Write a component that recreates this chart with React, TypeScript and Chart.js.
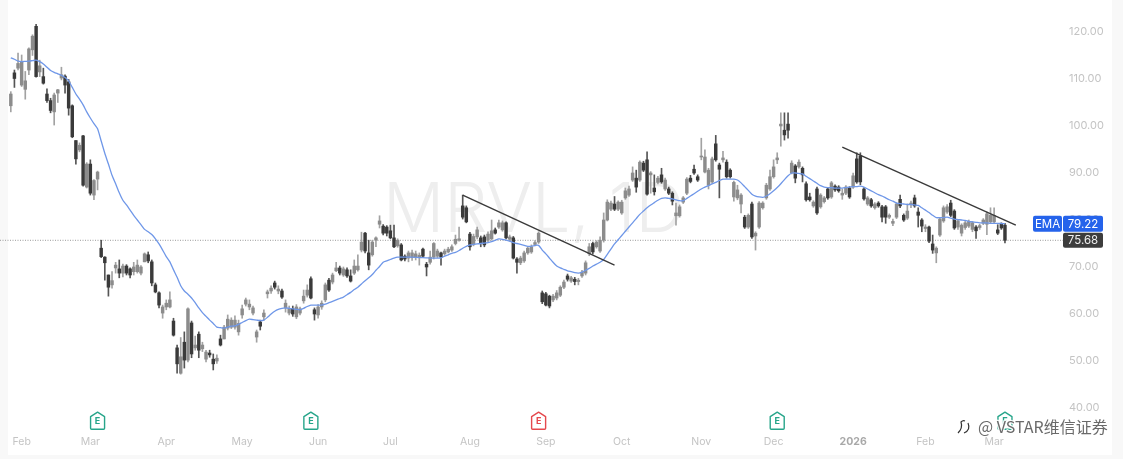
import React, { useEffect, useRef } from "react";
import { Chart, registerables } from "chart.js";

Chart.register(...registerables);

const opens = [
  104.3,111.3,112.3,108.7,107.8,111.9,116.2,121.2,111.5,110.5,
  106.8,105.4,103,107,110.2,110.6,109.4,104.3,96.9,94.9,
  97.9,87,91.9,85.3,88.7,74,72.1,68.3,66.2,69.8,
  69.6,68.7,70.2,69.6,69,69,68.7,71.1,72.6,71.1,
  66.2,64.5,60.2,61.5,61.5,58.5,52.8,47.4,54,50.2,
  58.1,52.8,55.7,52.6,50.4,51.7,50.4,50,54.7,54.7,
  57,57.2,57.2,56.2,59.8,62.1,61.5,60.2,55.1,58.3,
  59.4,64.3,64.9,66.6,64.9,64.9,61.3,60.2,61.1,59.4,
  60.2,62.8,64,67.5,60.9,59.8,61.5,63,67.2,66.8,
  69.2,69.8,68.3,69.4,68.1,68.7,69.4,73.6,77.2,73,
  72.6,75.7,79.1,78.7,78.5,77.7,76.2,74.5,74.7,72.3,
  71.9,72,72,72,73.8,70.6,71,72.1,72.3,73,
  72.8,73.2,73.6,75,75.7,83,82.6,77,74.8,76.4,
  76.2,76.4,75.7,76,77.9,78.5,77.9,79.4,75.9,76.2,
  71.7,70.9,71.3,73,73.2,74.8,75.3,64.5,64.3,63.8,
  63,63.4,64,65.7,68.1,67,67.4,66.9,68.1,68.7,
  72.8,75,74.3,73.4,75.7,80,82.3,83.4,82.3,81.5,
  84.7,85.3,88.5,88.9,88.5,92.1,92.8,89.6,86.8,88,
  89.6,86.6,86.6,85.7,80.9,80.9,83.8,85.7,88.9,90.8,
  89.2,93.4,90.2,87.4,88.1,96.2,91.7,92.8,92.3,90.6,
  84.9,84.7,83.4,80.6,78.5,83.4,76.6,78.5,82.6,84.7,
  86.6,89.2,92.8,100,99.1,100.4,90,91.5,91.3,91,
  87.7,84.9,83,86.6,82.8,83.9,86.6,84.9,87.2,87,
  85.3,85.7,86.8,87,93,93.6,86.6,83.4,84.3,82.6,
  83.6,82.8,82.8,80.6,79.3,80.6,84.4,81,80.4,83.3,
  84.7,81.7,80,78.2,78.5,74.9,73,76.8,79.8,81.7,
  83.6,81.9,78.5,77.2,78.4,78.7,78,78.5,78.4,79.3,
  79.1,79.6,79.6,77.9,79.1,78.9,
];
const closes = [
  106.8,110.1,113.3,113.7,109.6,116.4,119.1,110.5,112.8,109.1,
  105.4,103.3,106.6,107.7,110.9,108.7,103.8,97.7,93,95.9,
  87.4,91.9,85.7,88.4,90.2,72.2,70.9,65.7,67.1,70.4,
  68.7,70.2,68.7,68.3,70,70.4,70,72.8,71.3,66.6,
  64.7,61.9,61.5,62.3,63,55.5,49.4,50.9,50.2,61.1,
  51.5,53.4,52.3,53.4,51.9,51.3,49.4,50.6,53.4,57.2,
  58.9,58.7,58.7,58,61.1,63,62.1,61.3,56.2,57.4,
  60.2,64.7,65.5,65.7,65.3,63.6,62.3,61.1,60,61.5,
  61.1,63.8,65.1,63.4,60,61.5,62.3,66.2,65.1,68.3,
  69.8,68.7,69.6,68.1,67,70.2,70.2,75.3,73.4,70.4,
  75.3,76.2,79.8,77.2,77.2,76.2,74.3,75.7,71.5,71.7,
  73,73,72.8,72.5,72.3,70,72.1,75,73.4,72.1,
  73.4,73.8,74.3,75.9,76,80.6,79.6,74.3,76.5,77.9,
  75.1,74.7,77,77.7,77.2,79.4,79.4,76.2,76.4,71.9,
  71,71.9,73,74,74.3,75.2,77.2,62.6,61.9,61.7,
  63.8,64.5,65.7,66.8,67.4,67.7,66.9,67.2,68.9,70.9,
  74.3,73.2,75.3,75.7,80,83.8,83.6,82.3,83.8,83.8,
  86.2,86.6,90,87,92.3,90.6,85.5,90,86,88.9,
  88.1,88.5,85.7,84,81.5,82.8,84.7,88.7,88.2,90,
  88.5,93.6,93.4,90.6,93,92.8,90.8,93.2,89.2,89.2,
  88,86.4,85.3,78.5,81,76.4,77.2,83.6,83.6,87.4,
  89.2,91.3,93.2,100.4,98.1,99.1,92.1,88.9,92.3,89.6,
  84.3,84.3,83.8,81.5,85.3,84.7,84.7,87.9,86.4,86.2,
  85.7,87,84.9,89.4,88.1,88.1,84.5,84.7,83,83.4,
  83,80.6,80.6,81,79.7,83.4,83,80,81.9,83.6,
  83,81,78.7,78.5,75.5,73.6,74,80.2,82.6,82.8,
  81,78.3,79.8,78.9,79.4,79.7,79.4,77.7,78.8,80,
  81.3,81,81,77.2,78.3,75.68,
];
const highs = [
  107.3,111.9,115.5,115.1,111.6,116.6,119.4,121.6,114,112.3,
  107.9,105.9,107,107.8,112.5,110.9,109.9,104.5,96.9,96.4,
  98,92.2,92.8,88.6,90.4,75.7,72.2,68.3,69,71,
  71.5,70.6,70.5,69.8,71,71.5,70.3,73,73.2,71.5,
  66.6,64.7,61.9,63,64.7,59.1,53.4,55,56.2,61.3,
  58.5,55.3,56.2,54,52.3,52.3,51.5,51.3,55.5,57.6,
  59.8,59.2,59.6,58.7,61.9,63.4,63,61.7,56.6,58.7,
  60.9,65.1,66,67,66,65.3,63,61.7,61.7,62,
  61.5,65.1,66.2,67.9,61.3,62,62.8,66.6,67.6,68.7,
  71,70.2,70,69.8,69.4,71.5,72.6,77.4,77.4,75.7,
  75.7,76.4,80.9,79,78.8,78.9,78.9,76,75,72.6,
  73.4,73.6,73.4,73,74,71,73.4,75.2,73.8,73.2,
  73.8,74.2,74.7,76.8,78.5,85.3,83,77.4,77,78.5,
  76.6,76.8,77.5,80,78.3,80,79.8,79.6,76.8,76.5,
  72,72.3,73.4,74.3,74.7,75.6,77.5,64.9,64.6,64,
  64.2,65,66,67.2,68.5,68,67.8,67.6,69.3,71.3,
  75,75.3,75.6,76.4,81.5,84.3,84,85,84.1,84.2,
  86.8,87.2,91.3,90.6,92.6,92.5,94.5,90.3,89.6,89.3,
  91,88.9,87,86,83.6,83.2,85,89,89.5,91.7,
  89.6,97.4,94.9,91,93.4,98,92.1,94.6,92.8,90.9,
  88.3,87.4,85.6,81,81.3,83.8,77.5,83.9,83.9,87.8,
  90.6,92.8,94.3,102.8,102.8,102.8,92.6,91.8,92.8,91.3,
  88.1,85.7,84.1,87,85.6,85,86.9,88.2,87.5,87.3,
  86.6,87.3,87.1,90,94.3,94.3,86.9,85,84.6,83.7,
  83.9,83.1,83.1,81.3,80.2,83.7,85.3,81.3,83.4,84,
  85.3,82.6,80.3,79,78.7,76.8,74.3,80.5,83,83.3,
  84.2,82.2,80.1,79.2,79.7,80,79.7,78.8,79.1,80.3,
  81.7,82.6,82.6,79,79.4,79.3,
];
const lows = [
  103,108.2,111.9,108.4,105.7,110.9,115,110.4,110.5,108.9,
  105,102.8,100.2,105,109.8,107,102.3,97.5,91.9,94.5,
  87.2,86.8,85.3,84.3,86.4,72,67.2,63.8,65.5,68.7,
  67.7,67.9,68.3,67.7,68.3,68.7,68.3,71.1,70.9,66,
  64.5,61.3,59.1,60.9,61.3,55.3,47.4,47.2,48.5,49.8,
  50.7,52.3,50.7,52,49.8,50.8,48.1,49.5,53.2,54.7,
  56.6,56.9,56.8,55.5,59.1,61.7,60.9,59.8,54,56.6,
  58.7,63.4,64.4,65.3,64.3,63.3,60.4,59.8,59.5,59,
  59.8,62.3,63.6,63.2,58.7,59.1,61,62.6,64.8,66.4,
  69,68.3,68,67.8,66.8,68.4,69.1,73.2,73,69.4,
  72.3,74.3,78.3,76.8,76.6,76,74.1,74.2,71.3,71.3,
  71.1,71.4,71.5,70.4,72,68.1,70.6,71.7,72,70.4,
  72.5,73,73.3,74.7,75.5,80.2,79.4,73.6,74.5,76,
  74.3,74.3,75.4,75.7,77,78.2,77.6,76,75.5,71.7,
  68.7,70.5,71,72.7,72.9,74.5,75,62.2,61.7,61.3,
  62.6,63,63.7,65.4,67,66.7,66.2,66.2,67.8,68.3,
  72.4,72.8,74,73.1,75.3,79.8,82,82,82,81.2,
  84.4,85,88.2,85.9,88.2,90.3,85.3,85.7,85.3,87.7,
  87.8,86.3,85.4,83.2,78.9,80.6,83.5,85.4,87.9,89.7,
  88.2,92.8,90,86.6,87.8,92.5,84.7,92.3,88.9,88.9,
  84,84.3,81.5,78.2,78.2,76.1,73.6,78.2,82.3,84.4,
  86.3,88.9,92,95.7,97,97.4,89.8,87.9,91,88.1,
  84,84,82.7,81.2,82.5,83.6,84.4,84.6,86.1,85.9,
  84.4,85.4,84.6,86.7,87.8,87.5,84.2,83.1,82.7,82.3,
  82.7,79.6,79.3,80.3,78.8,80.3,82.6,79.7,80.1,82.6,
  82.7,78.5,77.5,77.5,75.2,72.9,70.9,76.5,79.5,81.4,
  80.7,78,78,76.6,78,78.4,77.5,76.1,78,79,
  76.9,79.3,79.2,76.9,78,75.1,
];
const ema = [
  114.5,114.2,113.8,113.7,113.75,113.8,113.9,114,113.7,113.2,
  112.5,111.8,111.4,111.1,110.8,110.3,109.6,108.2,106.8,105.7,
  104.5,103,101.7,100.5,99.4,96.8,94.2,91.9,89.5,87.7,
  85.8,84.2,83.2,82.1,81,80,79,78,77.5,76.9,
  76,74.9,73.6,72.2,71.1,69.4,67.8,66,64.9,64.2,
  63.4,62.4,61.3,60.3,59.5,58.7,58,57.2,57.1,57,
  57.2,57.4,57.5,57.8,58.2,58.6,58.9,58.8,58.7,58.6,
  58.7,59.3,60,60.6,61,61.2,61.3,61.2,61.1,61,
  60.9,61.2,61.6,61.9,61.9,61.9,61.9,62.1,62.4,62.7,
  63,63.3,63.6,64.1,64.6,65.2,65.7,66.4,67.1,67.7,
  68.4,69.3,70.1,71,71.3,71.6,71.9,72.1,72.1,72.1,
  72.1,72.1,72.05,72,72,71.95,71.9,71.9,71.9,71.95,
  72.3,72.6,72.9,73.1,73.5,74,74.4,74.7,74.8,74.9,
  75,75.1,75.2,75.4,75.7,76,75.9,75.7,75.5,75.2,
  75,74.8,74.6,74.4,74.4,74.6,74.6,73.6,72.8,71.9,
  71,70.2,69.8,69.5,69.2,69,68.8,68.7,68.9,69.3,
  69.7,70.2,70.6,71,71.6,72.7,73.8,74.9,75.8,76.7,
  77.6,78.5,79.4,80.3,81.2,81.9,82.6,83.2,83.7,84.2,
  84.6,84.7,84.6,84.5,84.3,84.1,84.1,84.6,85.1,85.6,
  86.1,86.6,87,87.3,87.7,88,88.4,88.7,88.7,88.7,
  88.7,88.5,87.9,87.1,86.3,85.5,85.1,84.9,84.8,85.1,
  85.6,86.2,86.9,87.7,88.6,89.4,90,90,89.9,89.8,
  89.3,88.8,88.3,87.8,87.3,87,86.9,86.9,86.8,86.8,
  86.8,86.9,87,87.1,87.1,87.2,87,86.6,86.2,85.8,
  85.4,85.1,84.7,84.3,84,83.6,83.5,83.4,83.3,83.3,
  83.2,83.1,82.6,82.1,81.6,81,80.5,80.5,80.5,80.6,
  80.4,80.2,80.1,80,79.9,79.7,79.6,79.5,79.4,79.4,
  79.4,79.3,79.3,79.3,79.25,79.22,
];

const SLOT_COUNT = 291;
const monthTicks: [number, string][] = [
  [3, "Feb"], [22, "Mar"], [43, "Apr"], [64, "May"], [85, "Jun"], [105, "Jul"], [127, "Aug"],
  [148, "Sep"], [169, "Oct"], [191, "Nov"], [211, "Dec"], [233, "2026"], [253, "Feb"], [272, "Mar"],
];
const priceTicks = [40, 50, 60, 70, 80, 90, 100, 110, 120];
const trendA: [number, number][] = [[125, 85.3], [167, 70.4]];
const trendB: [number, number][] = [[230, 95.5], [278, 78.9]];
const earningsSlots = [24, 83, 146, 212, 275];
const earningsMiss = [146];
const earningsLevel = 37.2;
const lastPrice = 75.68;
const lastEma = 79.22;

const DARK = "#3a3a3a";
const GREY = "#8c8c8c";
const FONT = 'Inter, "Open Sans", sans-serif';

const isDown = opens.map((o, i) => closes[i] < o);
const slotLabels = Array.from({ length: SLOT_COUNT }, (_, i) => {
  const t = monthTicks.find((m) => m[0] === i);
  return t ? t[1] : "";
});
const sparse = (pts: [number, number][]) => {
  const a: (number | null)[] = new Array(SLOT_COUNT).fill(null);
  pts.forEach(([i, v]) => (a[i] = v));
  return a;
};

function roundRect(ctx: CanvasRenderingContext2D, x: number, y: number, w: number, h: number, r: number) {
  ctx.beginPath();
  ctx.roundRect(x, y, w, h, r);
  ctx.fill();
}

const decorPlugin = {
  id: "decor",
  beforeDraw(chart: any) {
    const { ctx, width, height } = chart;
    ctx.save();
    ctx.fillStyle = "#f8f8f8";
    ctx.fillRect(0, 0, width, height);
    ctx.fillStyle = "#ffffff";
    ctx.fillRect(8, 0, 1104, 455);
    ctx.restore();
  },
  beforeDatasetsDraw(chart: any) {
    const { ctx, scales } = chart;
    ctx.save();
    // ticker watermark
    ctx.font = `300 68px Inter, sans-serif`;
    ctx.fillStyle = "#eeeeee";
    ctx.textAlign = "left";
    ctx.textBaseline = "alphabetic";
    ctx.fillText("MRVL, 1D", 383, 232);
    // last price dotted line
    const yP = scales.y.getPixelForValue(lastPrice);
    ctx.strokeStyle = "#9a9a9a";
    ctx.lineWidth = 1;
    ctx.setLineDash([1, 1.5]);
    ctx.beginPath();
    ctx.moveTo(0, yP);
    ctx.lineTo(1063, yP);
    ctx.stroke();
    ctx.restore();
  },
  afterDraw(chart: any) {
    const { ctx, scales } = chart;
    ctx.save();
    // earnings badges
    const yB = scales.y.getPixelForValue(earningsLevel);
    earningsSlots.forEach((slot) => {
      const x = scales.x.getPixelForValue(slot);
      const col = earningsMiss.includes(slot) ? "#e5484d" : "#27a58a";
      ctx.strokeStyle = col;
      ctx.lineWidth = 1.4;
      ctx.lineJoin = "round";
      ctx.beginPath();
      ctx.moveTo(x, yB - 9);
      ctx.lineTo(x + 7, yB - 4.5);
      ctx.lineTo(x + 7, yB + 7);
      ctx.quadraticCurveTo(x + 7, yB + 8, x + 6, yB + 8);
      ctx.lineTo(x - 6, yB + 8);
      ctx.quadraticCurveTo(x - 7, yB + 8, x - 7, yB + 7);
      ctx.lineTo(x - 7, yB - 4.5);
      ctx.closePath();
      ctx.stroke();
      ctx.fillStyle = col;
      ctx.font = `700 9px ${FONT}`;
      ctx.textAlign = "center";
      ctx.textBaseline = "middle";
      ctx.fillText("E", x, yB + 0.5);
    });
    // value tags
    const yE = scales.y.getPixelForValue(lastEma);
    const yL = scales.y.getPixelForValue(lastPrice);
    ctx.font = `400 11.5px ${FONT}`;
    ctx.textBaseline = "middle";
    ctx.textAlign = "center";
    ctx.fillStyle = "#2563eb";
    roundRect(ctx, 1033, yE - 8, 29, 16, 2);
    roundRect(ctx, 1063, yE - 8, 40, 16, 2);
    ctx.fillStyle = "#ffffff";
    ctx.fillText("EMA", 1047.5, yE + 0.5);
    ctx.fillText(lastEma.toFixed(2), 1083, yE + 0.5);
    ctx.fillStyle = "#3d3d3d";
    roundRect(ctx, 1063, yL - 7.5, 40, 15, 2);
    ctx.fillStyle = "#f0f0f0";
    ctx.fillText(lastPrice.toFixed(2), 1083, yL + 0.5);
    // repost watermark
    ctx.strokeStyle = "#333333";
    ctx.lineWidth = 1.2;
    ctx.beginPath();
    ctx.moveTo(958, 433);
    ctx.quadraticCurveTo(963, 428, 961, 422);
    ctx.quadraticCurveTo(963, 420, 965, 421);
    ctx.moveTo(964, 433);
    ctx.quadraticCurveTo(971, 430, 968, 423);
    ctx.stroke();
    ctx.font = `400 16px "Noto Sans CJK SC", ${FONT}`;
    ctx.textAlign = "left";
    ctx.textBaseline = "middle";
    ctx.lineWidth = 2.5;
    ctx.strokeStyle = "rgba(255,255,255,0.9)";
    ctx.strokeText("@ VSTAR维信证券", 978, 427);
    ctx.fillStyle = "#6a6a6a";
    ctx.fillText("@ VSTAR维信证券", 978, 427);
    ctx.restore();
  },
};

export default function App() {
  const ref = useRef<HTMLCanvasElement | null>(null);
  useEffect(() => {
    const chart = new Chart(ref.current as HTMLCanvasElement, {
      type: "bar",
      data: {
        labels: slotLabels,
        datasets: [
          {
            type: "line",
            label: "Trend A",
            data: sparse(trendA),
            spanGaps: true,
            borderColor: "#3a3a3a",
            borderWidth: 1.4,
            pointRadius: 0,
            order: 0,
          },
          {
            type: "line",
            label: "Trend B",
            data: sparse(trendB),
            spanGaps: true,
            borderColor: "#3a3a3a",
            borderWidth: 1.4,
            pointRadius: 0,
            order: 0,
          },
          {
            type: "line",
            label: "EMA",
            data: ema,
            borderColor: "#6f97e8",
            borderWidth: 1.3,
            pointRadius: 0,
            tension: 0.2,
            order: 1,
          },
          {
            type: "bar",
            label: "Body",
            data: opens.map((o, i) => [o, closes[i]]),
            backgroundColor: isDown.map((d) => (d ? DARK : GREY)),
            barThickness: 2.8,
            grouped: false,
            minBarLength: 1,
            order: 2,
          },
          {
            type: "bar",
            label: "Wick",
            data: lows.map((l, i) => [l, highs[i]]),
            backgroundColor: isDown.map((d) => (d ? "#555555" : "#a2a2a2")),
            barThickness: 1,
            grouped: false,
            order: 3,
          },
        ],
      } as any,
      options: {
        responsive: false,
        animation: false,
        layout: { padding: { left: 9, right: 0, top: 0, bottom: 0 } },
        plugins: { legend: { display: false }, tooltip: { enabled: false } },
        scales: {
          x: {
            type: "category",
            offset: true,
            grid: { display: false, drawTicks: false },
            border: { display: false },
            afterFit: (s: any) => {
              s.height = 27;
              s.paddingLeft = 0;
              s.paddingRight = 0;
            },
            ticks: {
              autoSkip: false,
              maxRotation: 0,
              padding: 4,
              color: (c: any) => (c.tick?.label === "2026" ? "#a8a8a8" : "#c4c4c4"),
              font: (c: any) => ({
                family: FONT,
                size: 10.5,
                weight: c.tick?.label === "2026" ? 700 : 400,
              }),
            },
          },
          y: {
            position: "right",
            min: 34.9,
            max: 126.8,
            grid: { display: false, drawTicks: false },
            border: { display: false },
            afterFit: (s: any) => {
              s.width = 62;
              s.paddingTop = 0;
              s.paddingBottom = 0;
            },
            afterBuildTicks: (s: any) => {
              s.ticks = priceTicks.map((value) => ({ value }));
            },
            ticks: {
              padding: 8,
              color: "#c4c4c4",
              font: { family: FONT, size: 11 },
              callback: (v: any) => Number(v).toFixed(2),
            },
          },
        },
      } as any,
      plugins: [decorPlugin],
    });
    return () => chart.destroy();
  }, []);
  return (
    <div style={{ position: "absolute", left: 0, top: 0, width: 1123, height: 459 }}>
      <canvas ref={ref} width={1123} height={459} style={{ display: "block", filter: "blur(0.4px)" }} />
    </div>
  );
}
